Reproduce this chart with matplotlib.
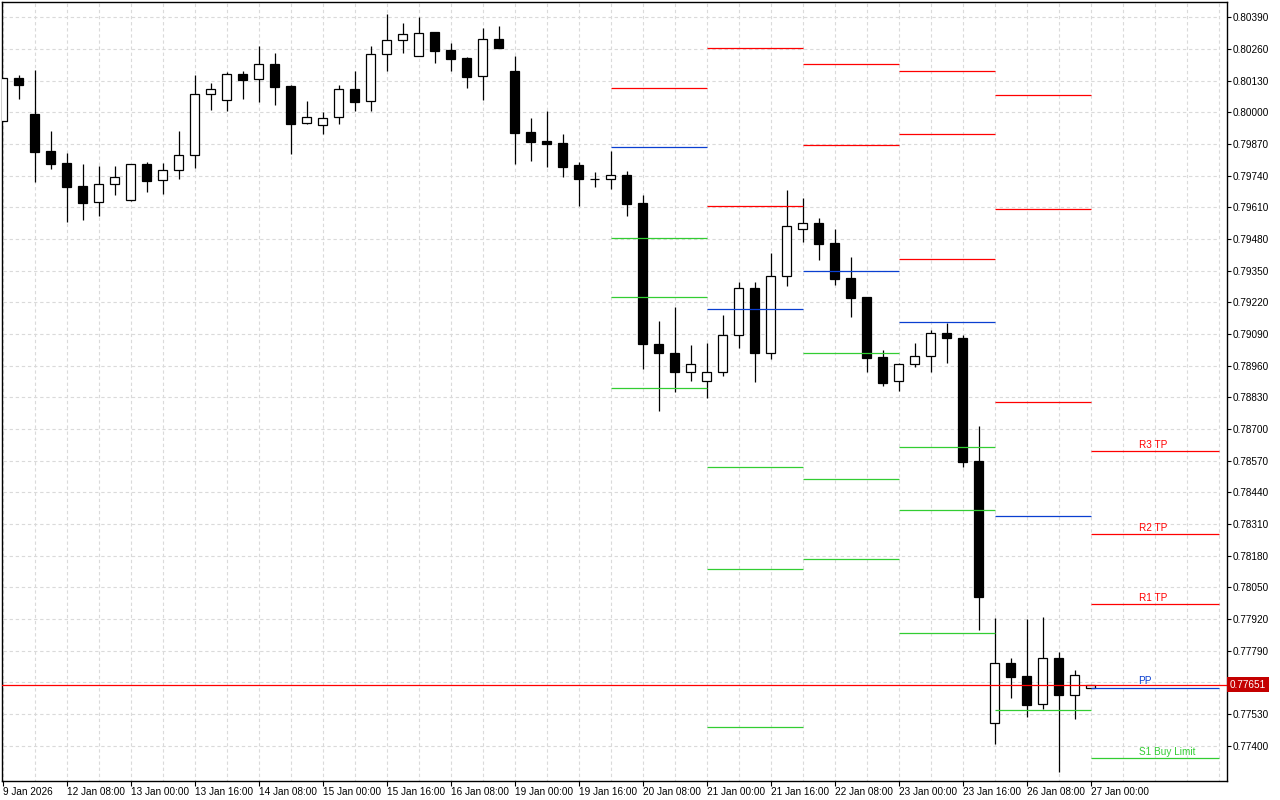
import matplotlib
matplotlib.use('Agg')
import matplotlib.pyplot as plt
import matplotlib.transforms as mtransforms

plt.rcParams['font.family'] = ['Liberation Sans', 'DejaVu Sans']

####################
# Data: 4H candles, 9 Jan 16:00 .. 27 Jan 00:00

opens = [0.79963, 0.80140, 0.79992, 0.79841, 0.79792, 0.79698, 0.79631, 0.79704, 0.79642, 0.79788,
         0.79721, 0.79762, 0.79824, 0.80074, 0.80049, 0.80157, 0.80136, 0.80198, 0.80108, 0.79955,
         0.79947, 0.79980, 0.80095, 0.80045, 0.80238, 0.80296, 0.80230, 0.80329, 0.80255, 0.80222,
         0.80148, 0.80300, 0.80170, 0.79918, 0.79882, 0.79874, 0.79784, 0.79728, 0.79725, 0.79743,
         0.79628, 0.79049, 0.79013, 0.78933, 0.78896, 0.78933, 0.79085, 0.79279, 0.79011, 0.79327,
         0.79520, 0.79545, 0.79463, 0.79320, 0.79242, 0.78996, 0.78896, 0.78966, 0.78999, 0.79093,
         0.79073, 0.78569, 0.77493, 0.77739, 0.77686, 0.77571, 0.77760, 0.77608, 0.77637]
highs = [0.80140, 0.80153, 0.80174, 0.79923, 0.79833, 0.79788, 0.79780, 0.79780, 0.79787, 0.79796,
         0.79792, 0.79923, 0.80153, 0.80120, 0.80166, 0.80170, 0.80272, 0.80244, 0.80111, 0.80047,
         0.80001, 0.80112, 0.80170, 0.80271, 0.80404, 0.80367, 0.80391, 0.80329, 0.80285, 0.80227,
         0.80346, 0.80354, 0.80231, 0.79977, 0.80006, 0.79911, 0.79796, 0.79755, 0.79841, 0.79759,
         0.79661, 0.79144, 0.79201, 0.79045, 0.79054, 0.79168, 0.79304, 0.79304, 0.79423, 0.79681,
         0.79649, 0.79566, 0.79521, 0.79406, 0.79242, 0.79024, 0.78971, 0.79054, 0.79106, 0.79137,
         0.79086, 0.78713, 0.77925, 0.77761, 0.77920, 0.77928, 0.77786, 0.77712, 0.77651]
lows = [0.79963, 0.80056, 0.79715, 0.79769, 0.79551, 0.79560, 0.79576, 0.79662, 0.79637, 0.79674,
        0.79666, 0.79728, 0.79773, 0.80011, 0.80007, 0.80056, 0.80044, 0.80031, 0.79830, 0.79951,
        0.79912, 0.79953, 0.80007, 0.80007, 0.80171, 0.80242, 0.80230, 0.80204, 0.80171, 0.80101,
        0.80052, 0.80265, 0.79789, 0.79802, 0.79777, 0.79736, 0.79616, 0.79692, 0.79687, 0.79576,
        0.78948, 0.78772, 0.78850, 0.78899, 0.78829, 0.78919, 0.79034, 0.78895, 0.78989, 0.79289,
        0.79469, 0.79395, 0.79293, 0.79161, 0.78932, 0.78878, 0.78858, 0.78956, 0.78932, 0.78969,
        0.78542, 0.77873, 0.77405, 0.77594, 0.77516, 0.77549, 0.77294, 0.77508, 0.77637]
closes = [0.80140, 0.80113, 0.79839, 0.79789, 0.79695, 0.79629, 0.79706, 0.79735, 0.79787, 0.79720,
          0.79762, 0.79825, 0.80074, 0.80095, 0.80156, 0.80134, 0.80197, 0.80105, 0.79953, 0.79980,
          0.79976, 0.80095, 0.80044, 0.80238, 0.80296, 0.80320, 0.80324, 0.80253, 0.80220, 0.80146,
          0.80300, 0.80265, 0.79917, 0.79880, 0.79871, 0.79777, 0.79728, 0.79728, 0.79742, 0.79625,
          0.79051, 0.79010, 0.78932, 0.78966, 0.78933, 0.79085, 0.79278, 0.79010, 0.79328, 0.79532,
          0.79545, 0.79461, 0.79317, 0.79239, 0.78993, 0.78887, 0.78966, 0.78999, 0.79093, 0.79075,
          0.78566, 0.78012, 0.77739, 0.77684, 0.77569, 0.77760, 0.77610, 0.77690, 0.77651]

# trading days shown and the 4H bars of each
trade_days = ['9 Jan', '12 Jan', '13 Jan', '14 Jan', '15 Jan', '16 Jan',
              '19 Jan', '20 Jan', '21 Jan', '22 Jan', '23 Jan', '26 Jan', '27 Jan']
bar_hours = {'9 Jan': ['16:00', '20:00'], '27 Jan': ['00:00']}
all_hours = ['00:00', '04:00', '08:00', '12:00', '16:00', '20:00']

bar_day = []
for d in trade_days:
    for h in bar_hours.get(d, all_hours):
        bar_day.append(d)

x_labels = ['9 Jan 2026', '12 Jan 08:00', '13 Jan 00:00', '13 Jan 16:00', '14 Jan 08:00',
            '15 Jan 00:00', '15 Jan 16:00', '16 Jan 08:00', '19 Jan 00:00', '19 Jan 16:00',
            '20 Jan 08:00', '21 Jan 00:00', '21 Jan 16:00', '22 Jan 08:00', '23 Jan 00:00',
            '23 Jan 16:00', '26 Jan 08:00', '27 Jan 00:00']

price_ticks = [0.77400, 0.77530, 0.77660, 0.77790, 0.77920, 0.78050, 0.78180, 0.78310,
               0.78440, 0.78570, 0.78700, 0.78830, 0.78960, 0.79090, 0.79220, 0.79350,
               0.79480, 0.79610, 0.79740, 0.79870, 0.80000, 0.80130, 0.80260, 0.80390]

# daily pivot levels (None = out of view)
pivot_days = ['20 Jan', '21 Jan', '22 Jan', '23 Jan', '26 Jan', '27 Jan']
R3 = [None, None, None, 0.80169, 0.80073, 0.78608]
R2 = [None, 0.80262, 0.80199, 0.79909, 0.79605, 0.78269]
R1 = [0.80100, 0.79614, 0.79865, 0.79398, 0.78809, 0.77980]
PP = [0.79858, 0.79193, 0.79347, 0.79138, 0.78341, 0.77637]
S1 = [0.79485, 0.78545, 0.79013, 0.78627, 0.77545, 0.77349]
S2 = [0.79243, 0.78127, 0.78495, 0.78367, None, None]
S3 = [0.78870, 0.77476, 0.78165, 0.77862, None, None]

last_labels = {'R3': 'R3 TP', 'R2': 'R2 TP', 'R1': 'R1 TP', 'PP': 'PP', 'S1': 'S1 Buy Limit'}
current_price = 0.77651

####################
# Figure

RED = '#FF0000'
BLUE = '#0A3FD0'
GREEN = '#32CD32'
GRID = '#DADADA'

fig = plt.figure(figsize=(12.8, 8), dpi=100)
ax = fig.add_axes([2.3 / 1280, 19 / 800, (1227 - 2.3) / 1280, (781 - 2.3) / 800])

n = len(opens)
xs = list(range(n))
x_end = 76

# grid
ax.hlines(price_ticks, 0, x_end, colors=GRID, linewidth=0.8, linestyles=(0, (3, 2.5)), zorder=0)
ax.vlines(range(0, x_end + 1, 2), 0.7, 0.81, colors=GRID, linewidth=0.8,
          linestyles=(0, (3, 2.5)), zorder=0)

# candles
ax.vlines(xs, lows, highs, colors='black', linewidth=0.9, zorder=2)
for i in xs:
    o, c = opens[i], closes[i]
    face = 'white' if c >= o else 'black'
    ax.bar(i, abs(c - o), bottom=min(o, c), width=0.6, facecolor=face,
           edgecolor='black', linewidth=0.9, zorder=3)

# pivot segments
day_start = [bar_day.index(d) for d in pivot_days]
day_stop = day_start[1:] + [x_end]
levels = [('R3', R3, RED), ('R2', R2, RED), ('R1', R1, RED), ('PP', PP, BLUE),
          ('S1', S1, GREEN), ('S2', S2, GREEN), ('S3', S3, GREEN)]
lab_tr = mtransforms.offset_copy(ax.transData, fig=fig, y=3.5, units='dots')
for name, vals, col in levels:
    for k, v in enumerate(vals):
        if v is None:
            continue
        ax.hlines(v, day_start[k], day_stop[k], colors=col, linewidth=0.9, zorder=4)
    if name in last_labels and vals[-1] is not None:
        ax.text(71, vals[-1], last_labels[name], color=col, fontsize=7.2,
                ha='left', va='baseline', transform=lab_tr, zorder=5)

# current price
ax.axhline(current_price, color=RED, linewidth=0.9, zorder=4)
ax.text(1.0 + 3 / 1225, current_price, '%.5f' % current_price,
        transform=ax.get_yaxis_transform(), ha='left', va='center', color='white',
        fontsize=7.2, clip_on=False, zorder=10,
        bbox=dict(boxstyle='square,pad=0.25', fc='#C40000', ec='none'))

# axes (the tick label under the price box is hidden, as in the terminal)
ax.set_xlim(-0.0125, 76.53)
ax.set_ylim(0.772551, 0.804516)
ax.yaxis.tick_right()
ax.set_yticks(price_ticks)
ax.set_yticklabels(['' if abs(p - current_price) < 0.0004 else '%.5f' % p for p in price_ticks])
ax.set_xticks(range(0, 4 * len(x_labels), 4))
ax.set_xticklabels(x_labels)
for lbl in ax.get_xticklabels():
    lbl.set_ha('left')
ax.tick_params(axis='y', direction='out', length=3, width=0.8, pad=1, labelsize=7.2)
ax.tick_params(axis='x', direction='out', length=3.5, width=0.8, pad=1, labelsize=7.2)
for sp in ax.spines.values():
    sp.set_color('black')
    sp.set_linewidth(1.0)

fig.savefig('out.png', dpi=100)
